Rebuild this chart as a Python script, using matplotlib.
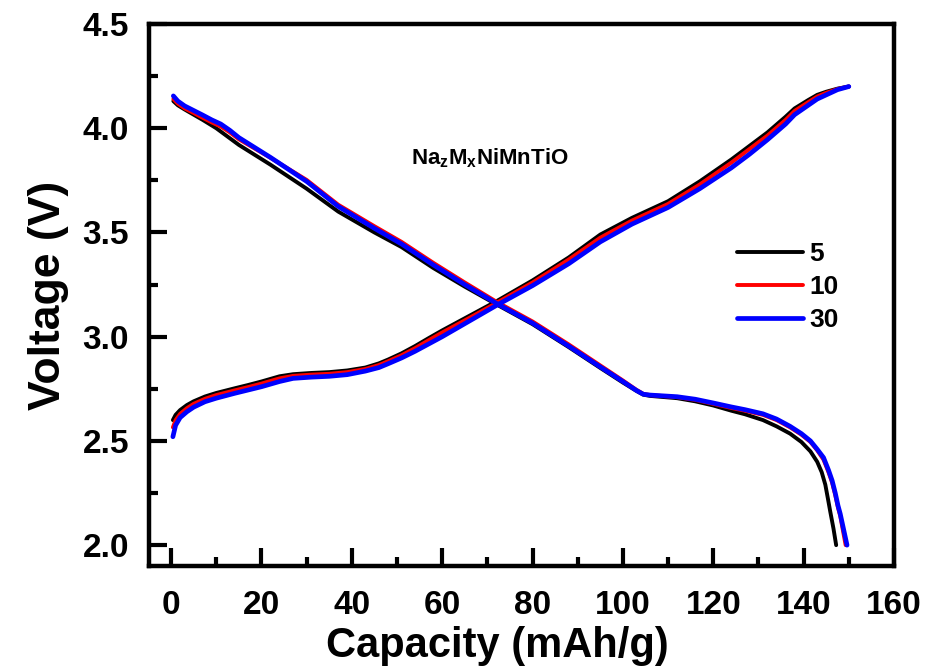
import matplotlib
matplotlib.use("Agg")
import matplotlib.pyplot as plt
from matplotlib.ticker import MultipleLocator

plt.rcParams['font.family'] = ['Liberation Sans', 'DejaVu Sans']
plt.rcParams['font.weight'] = 'bold'
plt.rcParams['mathtext.fontset'] = 'custom'
plt.rcParams['mathtext.rm'] = 'Liberation Sans:bold'
plt.rcParams['mathtext.it'] = 'Liberation Sans:bold'
plt.rcParams['mathtext.bf'] = 'Liberation Sans:bold'

# ---- data ----
labels = ["5", "10", "30"]
colors = ["#000000", "#ff0000", "#0000ff"]

# charge (rising) curves
chg_x = [0.4, 1, 2, 3.5, 5, 7.5, 10, 14, 17, 20, 24, 27, 31, 35, 39, 43, 46,
         48, 51, 54, 57, 60, 66, 72, 80, 88, 95, 102, 110, 117, 124, 128, 132,
         136, 138, 141, 143, 145, 147.5, 150]
chg_v5 = [2.60, 2.625, 2.648, 2.672, 2.69, 2.713, 2.73, 2.752, 2.768, 2.785,
          2.81, 2.82, 2.826, 2.83, 2.838, 2.852, 2.872, 2.89, 2.92, 2.955,
          2.993, 3.03, 3.10, 3.17, 3.27, 3.38, 3.49, 3.57, 3.65, 3.745, 3.85,
          3.915, 3.98, 4.055, 4.095, 4.135, 4.16, 4.175, 4.19, 4.20]
chg_v10 = [2.565, 2.60, 2.63, 2.657, 2.678, 2.702, 2.72, 2.742, 2.758, 2.775,
           2.80, 2.812, 2.818, 2.822, 2.83, 2.845, 2.864, 2.882, 2.911, 2.945,
           2.983, 3.02, 3.09, 3.162, 3.26, 3.37, 3.475, 3.557, 3.637, 3.73,
           3.835, 3.90, 3.965, 4.04, 4.083, 4.125, 4.152, 4.17, 4.188, 4.20]
chg_v30 = [2.52, 2.575, 2.612, 2.64, 2.662, 2.688, 2.705, 2.728, 2.744, 2.76,
           2.785, 2.80, 2.806, 2.81, 2.818, 2.835, 2.852, 2.87, 2.898, 2.93,
           2.965, 3.00, 3.075, 3.15, 3.245, 3.35, 3.455, 3.54, 3.62, 3.71,
           3.81, 3.875, 3.945, 4.02, 4.065, 4.11, 4.14, 4.16, 4.185, 4.20]

# discharge (falling) curves
dis_x5 = [0.5, 1.5, 3, 5, 7, 10, 15, 22, 30, 37, 45, 51, 58, 65, 72, 80, 88,
          95, 100, 103, 104.5, 106, 112, 116, 120, 124, 127, 131, 134, 137,
          139.5, 141.5, 143, 144, 144.8, 145.4, 145.9, 146.6, 147.2]
dis_v5 = [4.13, 4.11, 4.09, 4.065, 4.04, 4.0, 3.92, 3.825, 3.71, 3.60, 3.50,
          3.43, 3.33, 3.24, 3.155, 3.06, 2.95, 2.85, 2.78, 2.74, 2.722, 2.716,
          2.705, 2.69, 2.67, 2.645, 2.628, 2.60, 2.57, 2.535, 2.495, 2.45,
          2.40, 2.35, 2.29, 2.22, 2.16, 2.08, 2.0]
dis_x10 = [0.5, 1.5, 3, 5, 7, 9, 11, 13, 15, 22, 30, 37, 45, 51, 58, 65, 72,
           80, 88, 95, 100, 103, 104.5, 106, 112, 116, 120, 124, 127, 131, 134,
           137, 139.5, 141.5, 143, 144.4, 145.5, 146.3, 147, 147.6, 148.1,
           148.7, 149.3]
dis_v10 = [4.14, 4.118, 4.095, 4.073, 4.05, 4.028, 4.008, 3.98, 3.947, 3.858,
           3.752, 3.633, 3.53, 3.455, 3.355, 3.26, 3.168, 3.073, 2.963, 2.862,
           2.79, 2.745, 2.726, 2.72, 2.71, 2.697, 2.678, 2.658, 2.645, 2.625,
           2.60, 2.565, 2.53, 2.495, 2.455, 2.41, 2.35, 2.30, 2.24, 2.18, 2.14,
           2.07, 2.0]
dis_x30 = [0.5, 1.5, 3, 5, 7, 9, 11, 13, 15, 22, 30, 37, 45, 51, 58, 65, 72,
           80, 88, 95, 100, 103, 104.5, 106, 112, 116, 120, 124, 127, 131, 134,
           137, 139.5, 141.5, 143, 144.4, 145.5, 146.3, 147, 147.6, 148.1,
           148.8, 149.6]
dis_v30 = [4.155, 4.13, 4.107, 4.085, 4.063, 4.04, 4.02, 3.99, 3.955, 3.86,
           3.745, 3.625, 3.52, 3.445, 3.345, 3.25, 3.16, 3.065, 2.955, 2.855,
           2.785, 2.742, 2.724, 2.72, 2.712, 2.70, 2.682, 2.663, 2.65, 2.63,
           2.605, 2.57, 2.535, 2.50, 2.46, 2.42, 2.36, 2.31, 2.25, 2.19, 2.15,
           2.08, 2.0]

xticks = [0, 20, 40, 60, 80, 100, 120, 140, 160]
yticks = [2.0, 2.5, 3.0, 3.5, 4.0, 4.5]

# ---- figure ----
fig = plt.figure(figsize=(9.31, 6.70), dpi=100)
ax = fig.add_axes([148.5 / 931, 1 - 566 / 670, (894 - 148.5) / 931, (566 - 24) / 670])

widths = [2.8, 2.8, 3.4]
charge = [chg_v5, chg_v10, chg_v30]
dis_xs = [dis_x5, dis_x10, dis_x30]
dis_vs = [dis_v5, dis_v10, dis_v30]
for i in range(3):
    ax.plot(chg_x, charge[i], color=colors[i], lw=widths[i], label=labels[i],
            solid_capstyle='round', solid_joinstyle='round')
    ax.plot(dis_xs[i], dis_vs[i], color=colors[i], lw=widths[i],
            solid_capstyle='round', solid_joinstyle='round')

ax.set_xlim(-5, 160)
ax.set_ylim(1.9, 4.5)
ax.set_xticks(xticks)
ax.set_yticks(yticks)
ax.set_xticklabels([str(t) for t in xticks])
ax.set_yticklabels([f"{t:.1f}" for t in yticks])
ax.xaxis.set_minor_locator(MultipleLocator(10))
ax.yaxis.set_minor_locator(MultipleLocator(0.25))

for s in ax.spines.values():
    s.set_linewidth(3.2)
ax.tick_params(which='both', direction='in', top=False, right=False, width=3.0)
ax.tick_params(which='major', length=13)
ax.tick_params(which='minor', length=6.5)
ax.tick_params(axis='x', which='major', labelsize=24, pad=17)
ax.tick_params(axis='y', which='major', labelsize=24, pad=14)

ax.set_xlabel("Capacity (mAh/g)", fontsize=30, fontweight='bold')
ax.xaxis.set_label_coords(0.4675, -0.1105)
ax.set_ylabel("Voltage (V)", fontsize=32, fontweight='bold', labelpad=10)

ax.text(70.5, 3.855, r"Na$_z$M$_x$NiMnTiO", fontsize=16, fontweight='bold',
        ha='center', va='center')

leg = ax.legend(loc='upper left', bbox_to_anchor=(0.789, 0.597), frameon=False,
                fontsize=19, handlelength=2.5, handletextpad=0.26,
                labelspacing=0.33, borderpad=0, borderaxespad=0)
for t in leg.get_texts():
    t.set_fontweight('bold')

fig.savefig("out.png", dpi=100)
